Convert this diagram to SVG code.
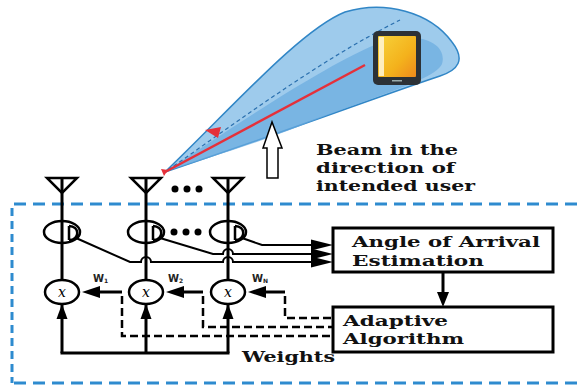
<svg xmlns="http://www.w3.org/2000/svg" width="578" height="388" viewBox="0 0 578 388">
  <defs>
    <linearGradient id="screen" x1="0" y1="0" x2="1" y2="1">
      <stop offset="0" stop-color="#f7d23a"/>
      <stop offset="0.6" stop-color="#f4b21c"/>
      <stop offset="1" stop-color="#ee8a1c"/>
    </linearGradient>
    <style>
      .col { stroke: #000; stroke-width: 3; fill: none; }
      .ln { stroke: #000; stroke-width: 2; fill: none; }
      .ring { stroke: #000; stroke-width: 2.5; fill: none; }
      .mul { stroke: #000; stroke-width: 2.5; fill: #fff; }
      .head { fill: #000; stroke: none; }
      .dash { stroke: #000; stroke-width: 2.5; fill: none; stroke-dasharray: 8 4; }
      .box { stroke: #000; stroke-width: 3; fill: #fff; }
      .lbl { font-family: "DejaVu Serif", "Liberation Serif", serif; font-weight: bold; font-size: 15px; fill: #111; }
      .w { font-family: "DejaVu Sans", "Liberation Sans", sans-serif; font-weight: bold; font-size: 10px; fill: #222; }
      .x { font-family: "DejaVu Serif", "Liberation Serif", serif; font-style: italic; font-size: 14px; fill: #000; }
      .dot { fill: #000; }
    </style>
  </defs>

  <rect width="578" height="388" fill="#fff"/>

  <!-- beam lobe toward the handset -->
  <g id="beam">
    <path d="M165,172 C230,110 300,30 345,12 C385,0 430,12 452,42 C466,60 458,70 440,76 C380,96 290,130 165,172 Z" fill="#9ecbec" stroke="#3186c6" stroke-width="1.5"/>
    <path d="M165,172 C240,122 330,62 382,42 C420,30 448,44 442,64 C434,80 380,94 300,126 C250,146 200,160 165,172 Z" fill="#6aabdf" opacity="0.7"/>
    <path d="M168,170 C240,120 320,60 400,20" fill="none" stroke="#2a6fae" stroke-width="1.2" stroke-dasharray="4 3"/>
    <line x1="165" y1="172" x2="365" y2="65" stroke="#e5303a" stroke-width="2.5"/>
    <polygon points="205,130 221,127 218,138" fill="#e5303a"/>
    <polygon points="161,169 168,170 164,176" fill="#e5303a"/>
  </g>

  <!-- handset -->
  <g id="phone">
    <rect x="373" y="31" width="48" height="54" rx="5" fill="#2c3136"/>
    <rect x="378" y="36" width="38" height="41" rx="1" fill="url(#screen)"/>
    <rect x="379" y="37" width="5" height="39" fill="#fff6d8" opacity="0.85"/>
    <rect x="392" y="80" width="10" height="1.5" fill="#9aa"/>
  </g>

  <!-- hollow pointer arrow -->
  <g id="pointer">
    <polygon points="272,122 263,148 267,148 267,178 278,178 278,148 282,148" fill="#fff" stroke="#000" stroke-width="1.5"/>
  </g>

  <g id="beam-label">
    <text class="lbl" x="316" y="155" textLength="142" lengthAdjust="spacingAndGlyphs">Beam in the</text>
    <text class="lbl" x="316" y="173" textLength="139" lengthAdjust="spacingAndGlyphs">direction of</text>
    <text class="lbl" x="316" y="191" textLength="159" lengthAdjust="spacingAndGlyphs">intended user</text>
  </g>

  <!-- dashed enclosure of the receiver -->
  <g id="enclosure" fill="none" stroke="#2e8bcf" stroke-width="3">
    <path d="M14,204 L580,204" stroke-dasharray="12 7"/>
    <path d="M14,383 L580,383" stroke-dasharray="12 7"/>
    <path d="M12,208 L12,383" stroke-dasharray="8 5"/>
  </g>

  <!-- antenna columns -->
  <g id="antenna-1">
    <line class="col" x1="62" y1="178" x2="62" y2="353"/>
    <polygon points="47,178 77,178 62,193" fill="none" stroke="#000" stroke-width="2.5"/>
  </g>
  <g id="antenna-2">
    <line class="col" x1="146" y1="178" x2="146" y2="353"/>
    <polygon points="131,178 161,178 146,193" fill="none" stroke="#000" stroke-width="2.5"/>
  </g>
  <g id="antenna-3">
    <line class="col" x1="228" y1="178" x2="228" y2="353"/>
    <polygon points="213,178 243,178 228,193" fill="none" stroke="#000" stroke-width="2.5"/>
  </g>
  <g id="antenna-dots">
    <circle class="dot" cx="175" cy="189" r="3.5"/>
    <circle class="dot" cx="187" cy="189" r="3.5"/>
    <circle class="dot" cx="199" cy="189" r="3.5"/>
  </g>

  <!-- couplers -->
  <g id="coupler-1">
    <ellipse class="ring" cx="62" cy="232" rx="18" ry="11"/>
    <path class="ring" d="M69,226 L69,240 M69,226 C80,226 80,240 69,240"/>
  </g>
  <g id="coupler-2">
    <ellipse class="ring" cx="146" cy="232" rx="18" ry="11"/>
    <path class="ring" d="M153,226 L153,240 M153,226 C164,226 164,240 153,240"/>
  </g>
  <g id="coupler-3">
    <ellipse class="ring" cx="228" cy="232" rx="18" ry="11"/>
    <path class="ring" d="M235,226 L235,240 M235,226 C246,226 246,240 235,240"/>
  </g>
  <g id="coupler-dots">
    <circle class="dot" cx="174" cy="232" r="3.5"/>
    <circle class="dot" cx="186" cy="232" r="3.5"/>
    <circle class="dot" cx="198" cy="232" r="3.5"/>
  </g>

  <!-- multipliers -->
  <g id="mult-1">
    <ellipse class="mul" cx="62" cy="292" rx="17" ry="12"/>
    <text class="x" x="62" y="297" text-anchor="middle">x</text>
  </g>
  <g id="mult-2">
    <ellipse class="mul" cx="146" cy="292" rx="17" ry="12"/>
    <text class="x" x="146" y="297" text-anchor="middle">x</text>
  </g>
  <g id="mult-3">
    <ellipse class="mul" cx="228" cy="292" rx="17" ry="12"/>
    <text class="x" x="228" y="297" text-anchor="middle">x</text>
  </g>

  <g id="weight-labels">
    <text class="w" x="93" y="282">W<tspan font-size="6" dy="1">1</tspan></text>
    <text class="w" x="168" y="282">W<tspan font-size="6" dy="1">2</tspan></text>
    <text class="w" x="252" y="282">W<tspan font-size="6" dy="1">N</tspan></text>
  </g>

  <!-- processing blocks -->
  <g id="aoa">
    <rect class="box" x="333" y="228" width="220" height="44"/>
    <text class="lbl" x="352" y="247" textLength="188" lengthAdjust="spacingAndGlyphs">Angle of Arrival</text>
    <text class="lbl" x="352" y="266" textLength="132" lengthAdjust="spacingAndGlyphs">Estimation</text>
  </g>
  <g id="adaptive">
    <rect class="box" x="333" y="307" width="220" height="45"/>
    <text class="lbl" x="343" y="326" textLength="105" lengthAdjust="spacingAndGlyphs">Adaptive</text>
    <text class="lbl" x="343" y="344" textLength="121" lengthAdjust="spacingAndGlyphs">Algorithm</text>
  </g>
  <g id="weights-label">
    <text class="lbl" x="242" y="362" textLength="93" lengthAdjust="spacingAndGlyphs">Weights</text>
  </g>

  <!-- connectors -->
  <g id="connectors">
    <!-- coupler outputs to the estimator, hopping over columns -->
    <path class="ln" d="M76,238 L130,262 L141,262 A5,5 0 0 1 151,262 L223,262 A5,5 0 0 1 233,262 L313,262"/>
    <path class="ln" d="M160,238 L213,254 L223,254 A5,5 0 0 1 233,254 L313,254"/>
    <path class="ln" d="M242,238 L262,245 L313,245"/>
    <polygon class="head" points="333,245 311,239.5 311,250.5"/>
    <polygon class="head" points="333,254 311,248.5 311,259.5"/>
    <polygon class="head" points="333,262 311,256.5 311,267.5"/>

    <!-- estimator to adaptive algorithm -->
    <line class="col" x1="443" y1="272" x2="443" y2="294"/>
    <polygon class="head" points="443,307 437,292 449,292"/>

    <!-- weight feeds into multipliers -->
    <line class="col" x1="98" y1="292" x2="122" y2="292"/>
    <polygon class="head" points="82,292 100,286 100,298"/>
    <line class="col" x1="182" y1="292" x2="203" y2="292"/>
    <polygon class="head" points="166,292 184,286 184,298"/>
    <line class="col" x1="264" y1="292" x2="285" y2="292"/>
    <polygon class="head" points="248,292 266,286 266,298"/>

    <!-- dashed weight lines from the adaptive algorithm -->
    <path class="dash" d="M122,296 L122,336 L333,336"/>
    <path class="dash" d="M203,296 L203,327 L333,327"/>
    <path class="dash" d="M285,296 L285,318 L333,318"/>

    <!-- signal return and arrows into multipliers -->
    <line class="col" x1="60.5" y1="353" x2="229.5" y2="353"/>
    <polygon class="head" points="62,304 56.5,319 67.5,319"/>
    <polygon class="head" points="146,304 140.5,319 151.5,319"/>
    <polygon class="head" points="228,304 222.5,319 233.5,319"/>
  </g>
</svg>
